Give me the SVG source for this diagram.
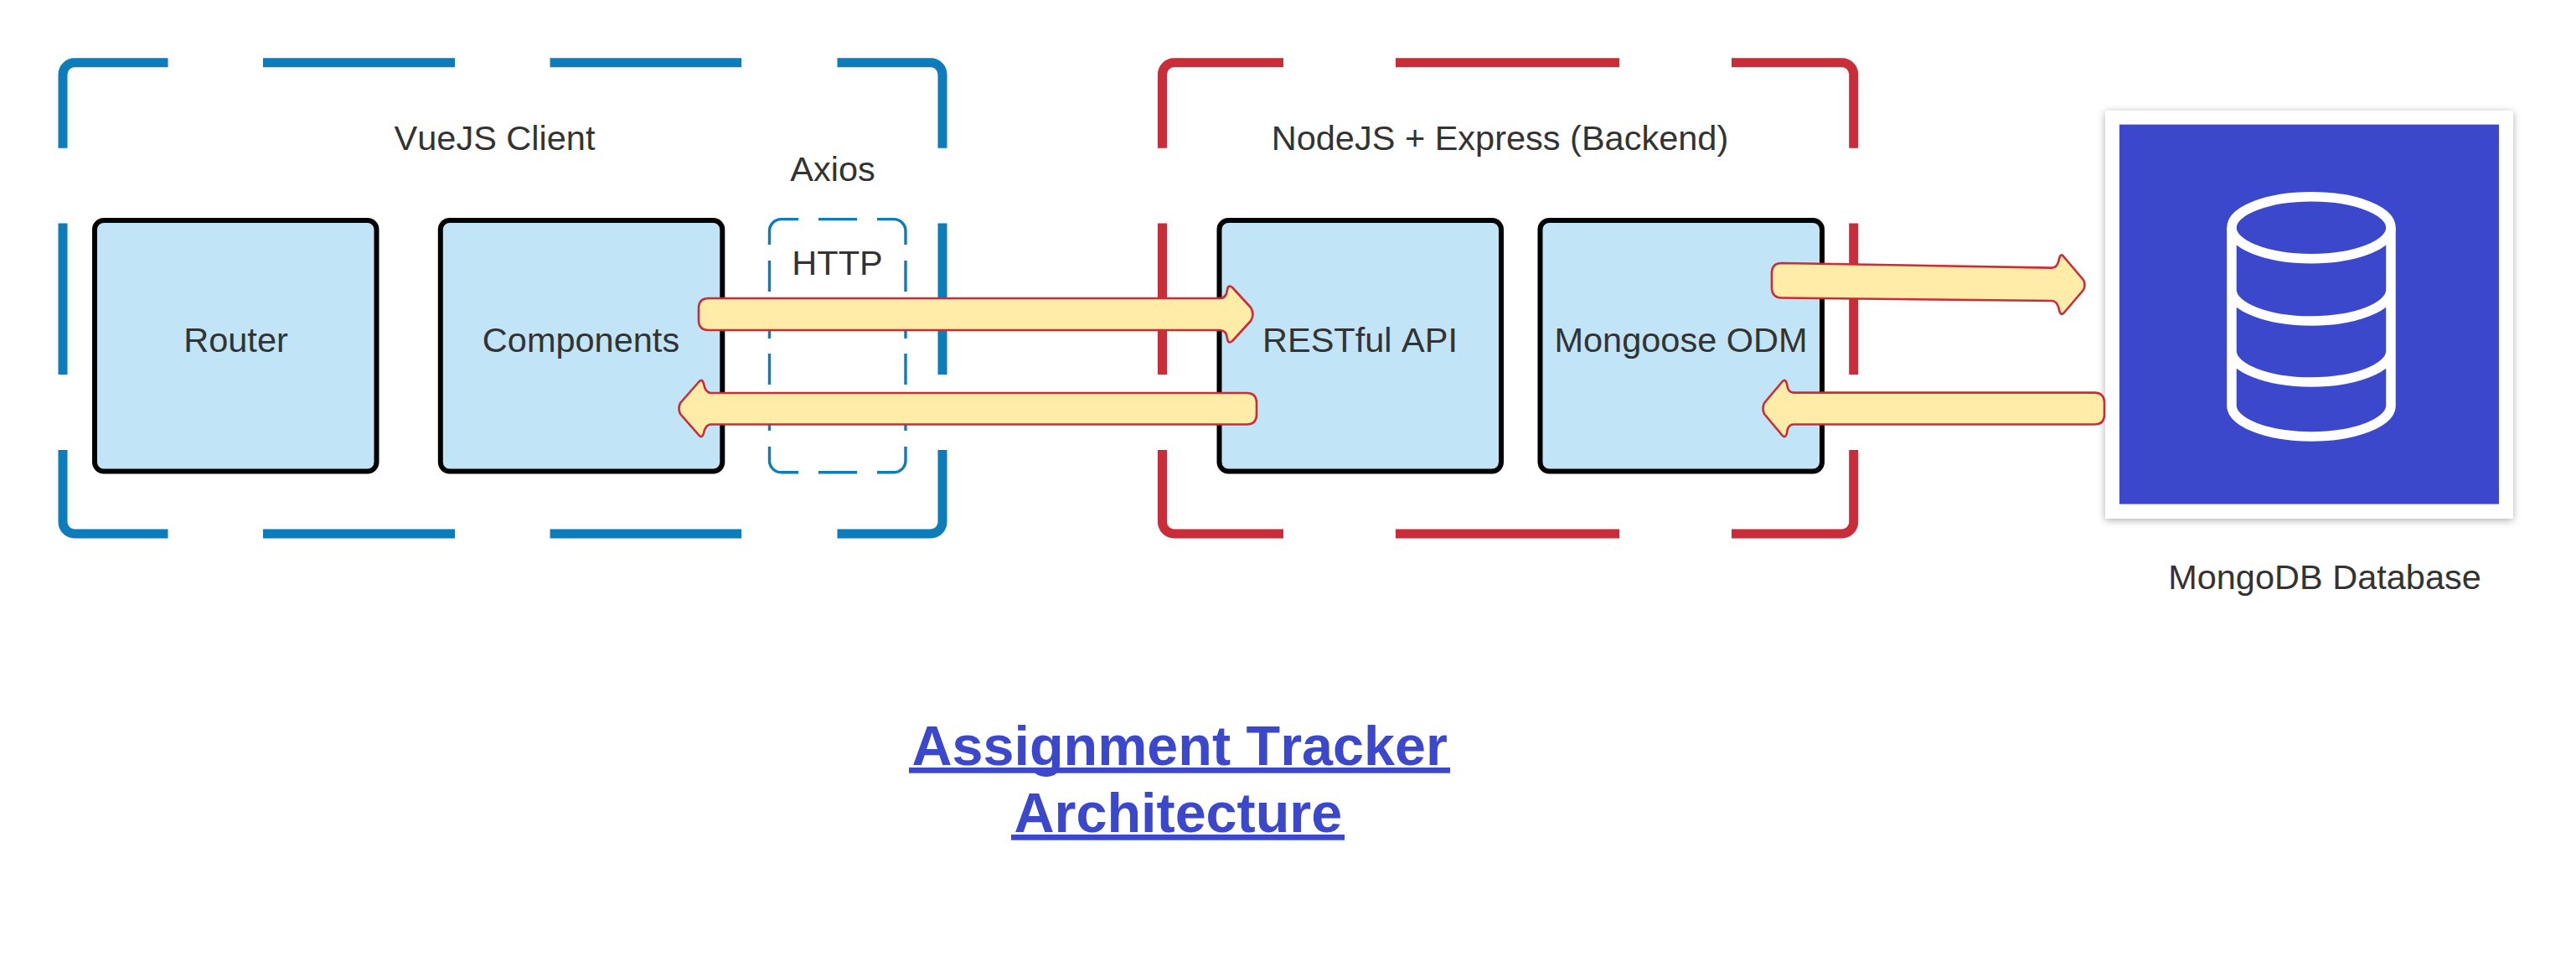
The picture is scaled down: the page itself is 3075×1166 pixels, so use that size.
<svg xmlns="http://www.w3.org/2000/svg" width="3075" height="1166" viewBox="0 0 3075 1166">
<style>
text{font-family:"Liberation Sans",Arial,sans-serif;font-size:41.5px;fill:#333;text-anchor:middle;font-kerning:none}
.box{fill:#c1e4f7;stroke:#000;stroke-width:6}
.fb{fill:none;stroke:#0c7cba;stroke-width:11}
.fr{fill:none;stroke:#c92d39;stroke-width:11}
.http{fill:none;stroke:#0c7cba;stroke-width:3.4}
.arrow{fill:#ffeca9;stroke:#c92d39;stroke-width:2.6;stroke-linejoin:round}
.db{fill:none;stroke:#fff;stroke-width:11.500}
.title{font-size:66.500px;font-weight:bold;fill:#3b48cc;text-anchor:start}
.ul{fill:#3b48cc}
</style>
<defs><filter id="sh" x="-10%" y="-10%" width="120%" height="120%"><feDropShadow dx="0" dy="2" stdDeviation="5" flood-color="#000" flood-opacity="0.32"/></filter></defs>
<rect width="3075" height="1166" fill="#fff"/>
<g id="vue-frame">
<path class="fb" d="M200.500 74.700H89a14 14 0 0 0-14 14V176.700M314 74.700H543M656.600 74.700H885M999.500 74.700H1111a14 14 0 0 1 14 14V176.700M75 266.500V447M1125 266.500V447M75 537V623a14 14 0 0 0 14 14H200.500M314 637H543M656.600 637H885M999.500 637H1111a14 14 0 0 0 14-14V537"/>
<text x="590.500" y="179">VueJS Client</text>
</g>
<g id="express-frame">
<path class="fr" d="M1532 74.700H1401.500a14 14 0 0 0-14 14V176.700M1666 74.700H1933M2067 74.700H2198.700a14 14 0 0 1 14 14V176.700M1387.500 266.500V447M2212.700 266.500V447M1387.500 537V623a14 14 0 0 0 14 14H1532M1666 637H1933M2067 637H2198.700a14 14 0 0 0 14-14V537"/>
<text x="1790.500" y="179">NodeJS + Express (Backend)</text>
</g>
<g id="router"><rect class="box" x="113" y="263" width="336.500" height="299.500" rx="11"/><text x="281.500" y="419.500">Router</text></g>
<g id="components"><rect class="box" x="525.800" y="263" width="336.500" height="299.500" rx="11"/><text x="693.500" y="419.500">Components</text></g>
<g id="axios">
<path class="http" d="M953 261.600H932.500a14 14 0 0 0-14 14V292M977 261.600H1023M1047 261.600H1067a14 14 0 0 1 14 14V292M918.500 311V348M918.500 366.500V404M918.500 422V459M918.500 477V514M1081 311V348M1081 366.500V404M1081 422V459M1081 477V514M918.500 533V549.700a14 14 0 0 0 14 14H953M977 563.700H1023M1047 563.700H1067a14 14 0 0 0 14-14V533"/>
<text x="994" y="215.500">Axios</text>
<text x="999.500" y="328">HTTP</text>
</g>
<g id="restful"><rect class="box" x="1455.500" y="263" width="336.500" height="299.500" rx="11"/><text x="1623.500" y="419.500">RESTful API</text></g>
<g id="mongoose"><rect class="box" x="1838.500" y="263" width="336.500" height="299.500" rx="11"/><text x="2006.500" y="419.500">Mongoose ODM</text></g>
<g id="mongodb">
<rect x="2513" y="132" width="487" height="487" fill="#fff" filter="url(#sh)"/>
<rect x="2530" y="148.600" width="453" height="453" fill="#3b48cc"/>
<g class="db"><ellipse cx="2759" cy="271.700" rx="95" ry="37"/><path d="M2664 271.700V484C2664 504 2706 521 2759 521S2854 504 2854 484V271.700M2664 346C2664 366 2706 383 2759 383S2854 366 2854 346M2664 419C2664 439 2706 456 2759 456S2854 439 2854 419"/></g>
<text x="2775" y="703">MongoDB Database</text>
</g>
<g id="connectors">
<path class="arrow" d="M846 356H1456Q1464 356 1465 346Q1466 339 1471 343L1493 367Q1498 375 1493 383L1471 407Q1466 411 1465 404Q1464 394 1456 394H846Q834 394 834 382V368Q834 356 846 356Z"/>
<path class="arrow" d="M1488 469H849Q842 469 840 458Q838 451 834 456L812 481Q809 487.500 812 494L834 519Q838 524 840 517Q842 506.500 849 506.500H1488Q1500 506.500 1500 494.500V481Q1500 469 1488 469Z"/>
<path class="arrow" d="M2127 314L2449 319.600Q2456 320 2458 309Q2460 301 2464 307L2487 334Q2490 340 2487 346L2464 373Q2460 378 2458 370Q2456 359 2449 359L2127 355.500Q2115 355.500 2115 343V326Q2115 314 2127 314Z"/>
<path class="arrow" d="M2500 468.600H2141Q2134 468.600 2133 458Q2131 451 2127 456L2106 481Q2103 487.500 2106 494L2127 519Q2131 524 2133 517Q2134 506.500 2141 506.500H2500Q2512 506.500 2512 494.500V481Q2512 468.600 2500 468.600Z"/>
</g>
<g id="title">
<rect class="ul" x="1085" y="916" width="646" height="6.700"/>
<rect class="ul" x="1207" y="996" width="398" height="6.700"/>
<text class="title" x="1088.500" y="912.700">Assignment Tracker</text>
<text class="title" x="1210.500" y="992.700">Architecture</text>
</g>
</svg>
